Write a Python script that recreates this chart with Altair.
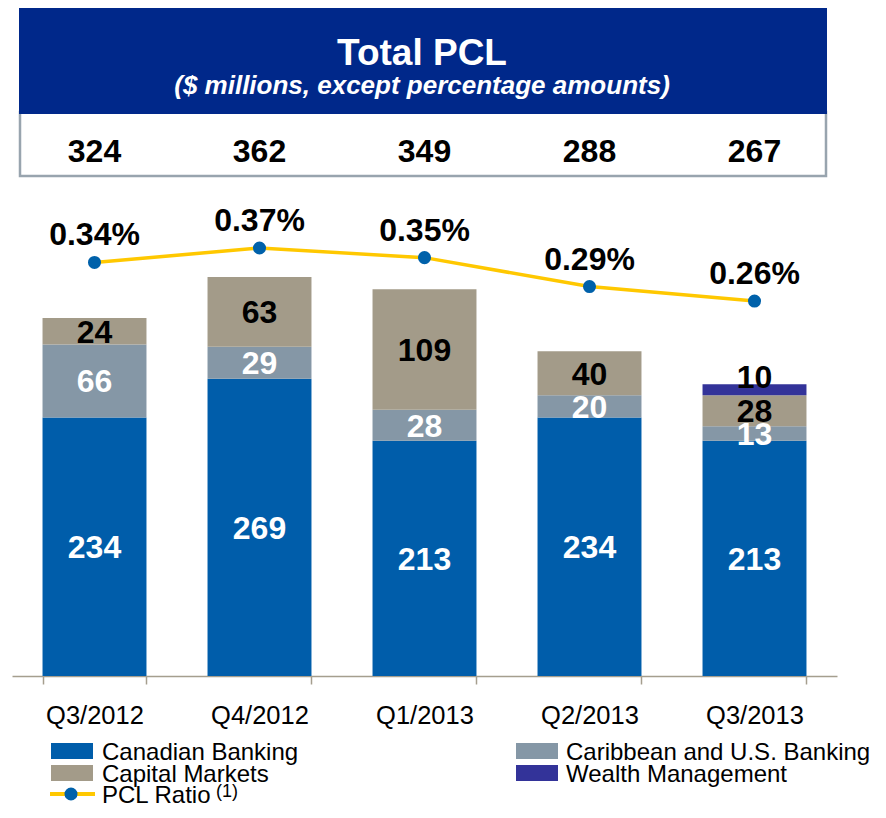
import altair as alt
import pandas as pd

# ---------------- data ----------------
quarters = ["Q3/2012", "Q4/2012", "Q1/2013", "Q2/2013", "Q3/2013"]
segments = ["Canadian Banking", "Caribbean and U.S. Banking", "Capital Markets", "Wealth Management"]
canadian = [234, 269, 213, 234, 213]
caribbean = [66, 29, 28, 20, 13]
capital = [24, 63, 109, 40, 28]
wealth = [0, 0, 0, 0, 10]
totals = [324, 362, 349, 288, 267]
pcl_ratio = [0.34, 0.37, 0.35, 0.29, 0.26]

seg_colors = ["#005DAA", "#8597A6", "#A39B89", "#333399"]
LINE_COLOR = "#FFC800"
DOT_COLOR = "#0061AA"
HEADER_BLUE = "#00288A"
BORDER_GRAY = "#98A4AE"
AXIS_COLOR = "#A59E8E"
FONT = "Liberation Sans"

rows = []
for s_i, (seg, vals) in enumerate(zip(segments, [canadian, caribbean, capital, wealth])):
    for q, v in zip(quarters, vals):
        if v > 0:
            rows.append({"quarter": q, "segment": seg, "value": v, "k": s_i})
bars_df = pd.DataFrame(rows)
line_df = pd.DataFrame({"quarter": quarters, "ratio": pcl_ratio,
                        "label": [f"{r:.2f}%" for r in pcl_ratio]})
tot_df = pd.DataFrame({"quarter": quarters, "total": totals})

# ---------------- layout ----------------
W, H = 862, 668
px_per_unit = 1.105
bar_domain = [0, H / px_per_unit]
# ratio scale: 0.37% at y=240, 482 px per 1%
ratio_domain = [0.37 - (H - 240) / 482, 0.37 + 240 / 482]

x_enc = alt.X(
    "quarter:N", sort=quarters,
    scale=alt.Scale(domain=quarters, range=[4, 829], paddingInner=0.37, paddingOuter=0.185),
    axis=alt.Axis(title=None, tickBand="extent", domainColor=AXIS_COLOR, domainWidth=1.5,
                  tickColor=AXIS_COLOR, tickWidth=1.5, tickSize=8, labelFontSize=25.5,
                  labelColor="black", labelPadding=19, labelFont=FONT, labelAngle=0),
)
y_bar = alt.Y("value:Q", stack="zero", scale=alt.Scale(domain=bar_domain, nice=False, zero=False), axis=None)

bars = alt.Chart(bars_df).mark_bar(opacity=1).encode(
    x=x_enc,
    y=y_bar,
    color=alt.Color("segment:N", scale=alt.Scale(domain=segments, range=seg_colors), legend=None),
    order=alt.Order("k:Q", sort="ascending"),
)

stacked = alt.Chart(bars_df).transform_stack(
    stack="value", groupby=["quarter"], as_=["v0", "v1"],
    sort=[alt.SortField("k", order="ascending")],
).transform_calculate(mid="(datum.v0 + datum.v1) / 2")

y_mid = alt.Y("mid:Q", scale=alt.Scale(domain=bar_domain, nice=False, zero=False), axis=None)
lbl_style = dict(fontSize=32, fontWeight="bold", font=FONT, baseline="alphabetic", align="center")

lbl_white = stacked.transform_filter("datum.k < 2").mark_text(color="white", dy=11.5, **lbl_style).encode(
    x=x_enc, y=y_mid, text="value:Q")
lbl_black = stacked.transform_filter("datum.k == 2").mark_text(color="black", dy=11.5, **lbl_style).encode(
    x=x_enc, y=y_mid, text="value:Q")
lbl_wealth = stacked.transform_filter("datum.k == 3").mark_text(color="black", dy=-1.5, **lbl_style).encode(
    x=x_enc, y=y_mid, text="value:Q")

y_ratio = alt.Y("ratio:Q", scale=alt.Scale(domain=ratio_domain, nice=False, zero=False), axis=None)
line = alt.Chart(line_df).mark_line(color=LINE_COLOR, strokeWidth=3.5).encode(x=x_enc, y=y_ratio)
dots = alt.Chart(line_df).mark_point(filled=True, color=DOT_COLOR, size=170, opacity=1).encode(x=x_enc, y=y_ratio)
pct = alt.Chart(line_df).mark_text(color="black", dy=-17, **lbl_style).encode(x=x_enc, y=y_ratio, text="label:N")

# ---------------- header ----------------
one = pd.DataFrame({"a": [0]})
header_box = alt.Chart(one).mark_rect(fill="white", stroke=BORDER_GRAY, strokeWidth=2.5).encode(
    x=alt.value(12), x2=alt.value(818), y=alt.value(104), y2=alt.value(168))
header_bg = alt.Chart(one).mark_rect(color=HEADER_BLUE).encode(
    x=alt.value(11), x2=alt.value(819), y=alt.value(0), y2=alt.value(106))
title = alt.Chart(one).mark_text(text="Total PCL", color="white", fontSize=37, fontWeight="bold",
                                 font=FONT, align="center", baseline="alphabetic").encode(
    x=alt.value(414), y=alt.value(57))
subtitle = alt.Chart(one).mark_text(text="($ millions, except percentage amounts)", color="white",
                                    fontSize=26, fontWeight="bold", fontStyle="italic", font=FONT,
                                    align="center", baseline="alphabetic").encode(
    x=alt.value(414), y=alt.value(86))
tot_text = alt.Chart(tot_df).mark_text(color="black", **lbl_style).encode(
    x=x_enc, y=alt.value(153.5), text="total:Q")

# ---------------- legend ----------------
leg_layers = []
leg_font = 24
col_sym = [(43, 85), (508, 550)]
col_txt = [94, 558]
row_c = [743, 765, 786]
for i, (seg, col) in enumerate(zip(segments, seg_colors)):
    c, r = i % 2, i // 2
    leg_layers.append(alt.Chart(one).mark_rect(color=col).encode(
        x=alt.value(col_sym[c][0]), x2=alt.value(col_sym[c][1]),
        y=alt.value(row_c[r] - 8), y2=alt.value(row_c[r] + 8)))
    leg_layers.append(alt.Chart(one).mark_text(text=seg, color="black", fontSize=leg_font, font=FONT,
                                               align="left", baseline="alphabetic").encode(
        x=alt.value(col_txt[c]), y=alt.value(row_c[r] + 8.5)))
leg_layers.append(alt.Chart(one).mark_rule(color=LINE_COLOR, strokeWidth=4).encode(
    x=alt.value(42), x2=alt.value(87), y=alt.value(row_c[2])))
leg_layers.append(alt.Chart(one).mark_point(filled=True, color=DOT_COLOR, size=170, opacity=1).encode(
    x=alt.value(63), y=alt.value(row_c[2])))
leg_layers.append(alt.Chart(one).mark_text(text="PCL Ratio", color="black", fontSize=leg_font, font=FONT,
                                           align="left", baseline="alphabetic").encode(
    x=alt.value(col_txt[0]), y=alt.value(row_c[2] + 8.5)))
leg_layers.append(alt.Chart(one).mark_text(text="(1)", color="black", fontSize=18, font=FONT,
                                           align="left", baseline="alphabetic").encode(
    x=alt.value(208), y=alt.value(row_c[2] + 3)))

chart = alt.layer(
    header_box, header_bg, title, subtitle, tot_text,
    bars, lbl_white, lbl_black, lbl_wealth,
    line, dots, pct,
    *leg_layers,
).resolve_scale(y="independent").properties(
    width=W, height=H,
    autosize=alt.AutoSizeParams(type="none"),
    padding={"left": 0, "top": 0, "right": 8, "bottom": 134},
    background="white",
).configure_view(stroke=None).configure_text(font=FONT)

chart.save("out.html", embed_options={"renderer": "svg", "actions": False})
